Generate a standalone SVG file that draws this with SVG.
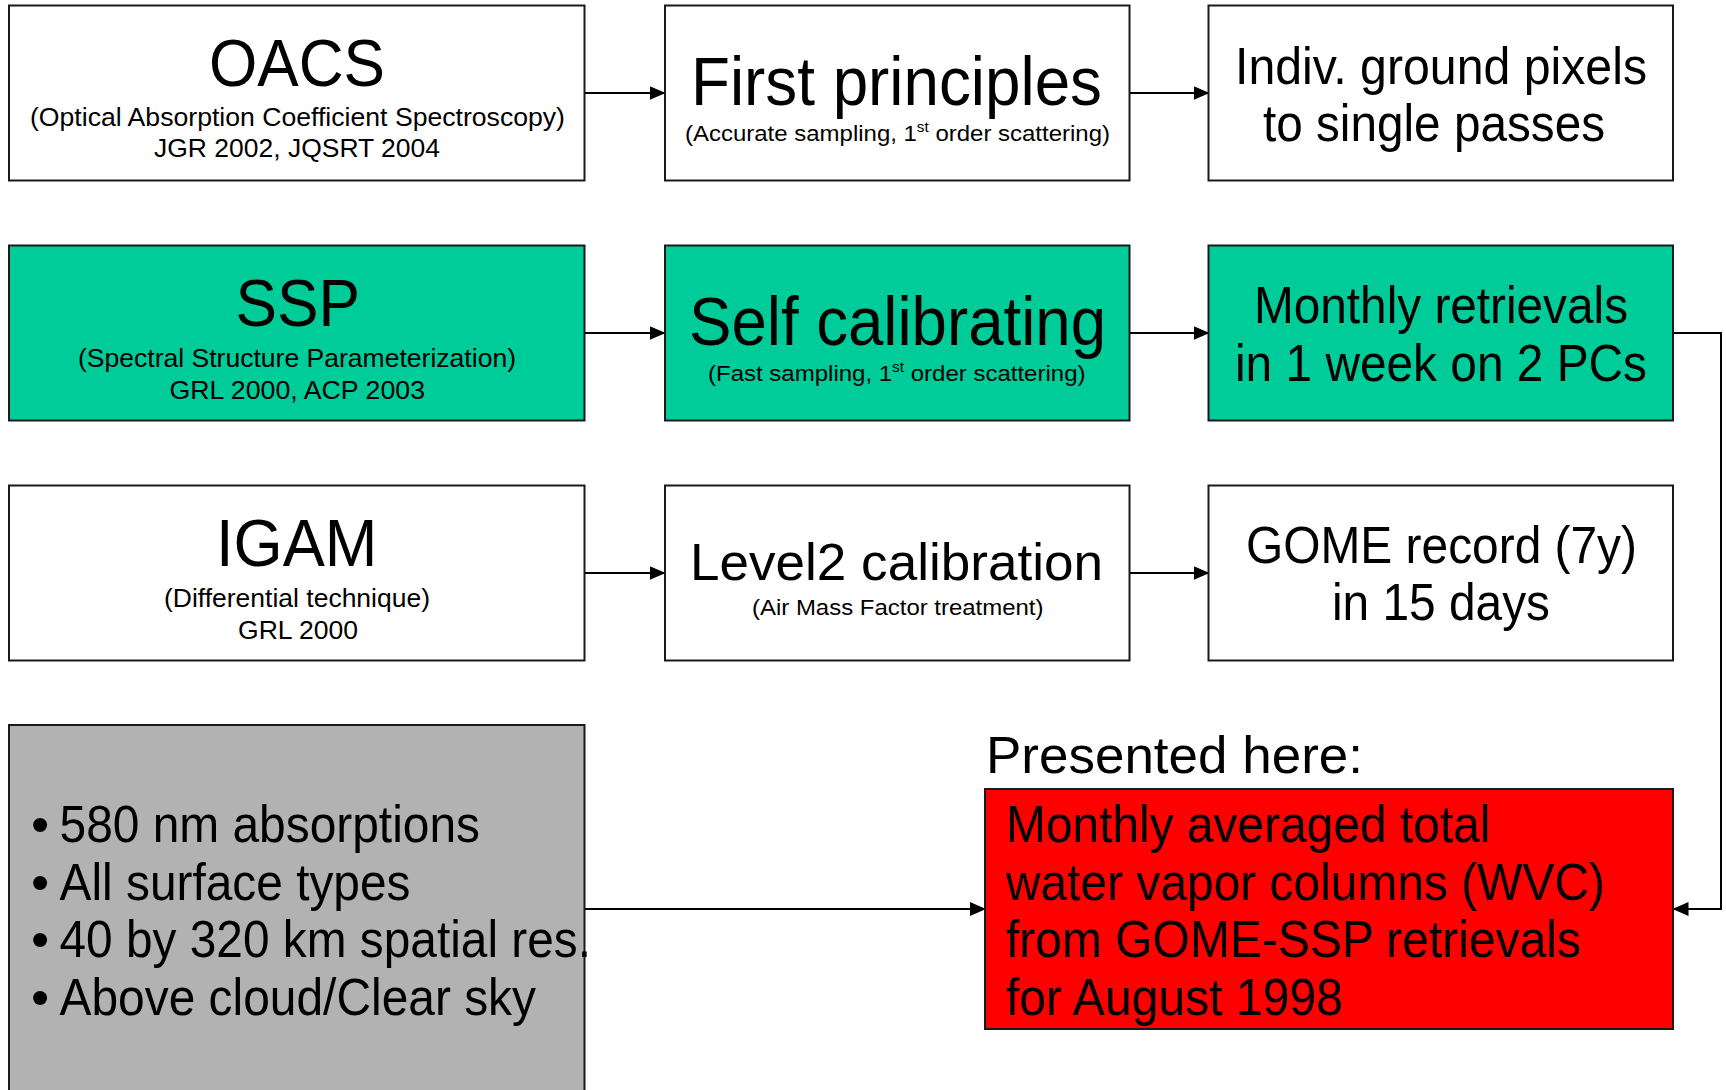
<svg xmlns="http://www.w3.org/2000/svg" width="1726" height="1090" viewBox="0 0 1726 1090">
<defs>
<marker id="arr" markerUnits="userSpaceOnUse" markerWidth="16" markerHeight="14" refX="15" refY="7" orient="auto">
<path d="M0,0 L16,7 L0,14 z" fill="#000"/>
</marker>
<style>
.box{stroke:#1a1a1a;stroke-width:2}
.w{fill:#ffffff}
.g{fill:#00CC99}
.r{fill:#FF0000}
.gr{fill:#B2B2B2}
text{font-family:"Liberation Sans",Arial,sans-serif;fill:#000}
.big{font-size:66px}
.mid{font-size:52px}
.sub{font-size:25px}
.sub2{font-size:22px}
.con{fill:none;stroke:#000;stroke-width:2}
</style>
</defs>
<rect width="1726" height="1090" fill="#ffffff"/>
<g id="connectors">
<path class="con" d="M584.5,93 H664.5" marker-end="url(#arr)"/>
<path class="con" d="M1129.5,93 H1208.5" marker-end="url(#arr)"/>
<path class="con" d="M584.5,333 H664.5" marker-end="url(#arr)"/>
<path class="con" d="M1129.5,333 H1208.5" marker-end="url(#arr)"/>
<path class="con" d="M584.5,573 H664.5" marker-end="url(#arr)"/>
<path class="con" d="M1129.5,573 H1208.5" marker-end="url(#arr)"/>
<path class="con" d="M584.5,909 H985" marker-end="url(#arr)"/>
<path class="con" d="M1673,333 H1721 V909 H1673.5" marker-end="url(#arr)"/>
</g>
<g id="oacs">
<rect class="box w" x="9" y="5.5" width="575.5" height="175"/>
<text class="big" x="209" y="86" textLength="176" lengthAdjust="spacingAndGlyphs">OACS</text>
<text class="sub" x="30" y="126" textLength="535" lengthAdjust="spacingAndGlyphs">(Optical Absorption Coefficient Spectroscopy)</text>
<text class="sub" x="154" y="157" textLength="286" lengthAdjust="spacingAndGlyphs">JGR 2002, JQSRT 2004</text>
</g>
<g id="first-principles">
<rect class="box w" x="665" y="5.5" width="464.5" height="175"/>
<text x="691" y="104.5" style="font-size:69px" textLength="411" lengthAdjust="spacingAndGlyphs">First principles</text>
<text class="sub2" x="685" y="141" textLength="425" lengthAdjust="spacingAndGlyphs">(Accurate sampling, 1<tspan style="font-size:14px" dy="-9">st</tspan><tspan dy="9"> order scattering)</tspan></text>
</g>
<g id="indiv">
<rect class="box w" x="1208.5" y="5.5" width="464.5" height="175"/>
<text class="mid" x="1235" y="84" textLength="412" lengthAdjust="spacingAndGlyphs">Indiv. ground pixels</text>
<text class="mid" x="1263" y="141" textLength="342" lengthAdjust="spacingAndGlyphs">to single passes</text>
</g>
<g id="ssp">
<rect class="box g" x="9" y="245.5" width="575.5" height="175"/>
<text class="big" x="235.5" y="326" textLength="124.5" lengthAdjust="spacingAndGlyphs">SSP</text>
<text class="sub" x="78" y="366.5" textLength="438" lengthAdjust="spacingAndGlyphs">(Spectral Structure Parameterization)</text>
<text class="sub" x="169.5" y="398.5" textLength="255.5" lengthAdjust="spacingAndGlyphs">GRL 2000, ACP 2003</text>
</g>
<g id="self-calibrating">
<rect class="box g" x="665" y="245.5" width="464.5" height="175"/>
<text x="689" y="344.5" style="font-size:69px" textLength="417" lengthAdjust="spacingAndGlyphs">Self calibrating</text>
<text class="sub2" x="708" y="381" textLength="377.5" lengthAdjust="spacingAndGlyphs">(Fast sampling, 1<tspan style="font-size:14px" dy="-9">st</tspan><tspan dy="9"> order scattering)</tspan></text>
</g>
<g id="monthly-retrievals">
<rect class="box g" x="1208.5" y="245.5" width="464.5" height="175"/>
<text class="mid" x="1254" y="322.5" textLength="374" lengthAdjust="spacingAndGlyphs">Monthly retrievals</text>
<text class="mid" x="1235" y="381" textLength="412" lengthAdjust="spacingAndGlyphs">in 1 week on 2 PCs</text>
</g>
<g id="igam">
<rect class="box w" x="9" y="485.5" width="575.5" height="175"/>
<text class="big" x="216" y="566" textLength="161.5" lengthAdjust="spacingAndGlyphs">IGAM</text>
<text class="sub" x="164" y="606.5" textLength="266" lengthAdjust="spacingAndGlyphs">(Differential technique)</text>
<text class="sub" x="238" y="638.5" textLength="120" lengthAdjust="spacingAndGlyphs">GRL 2000</text>
</g>
<g id="level2">
<rect class="box w" x="665" y="485.5" width="464.5" height="175"/>
<text class="mid" x="690" y="580" textLength="413" lengthAdjust="spacingAndGlyphs">Level2 calibration</text>
<text class="sub2" x="752" y="615" textLength="291.5" lengthAdjust="spacingAndGlyphs">(Air Mass Factor treatment)</text>
</g>
<g id="gome-record">
<rect class="box w" x="1208.5" y="485.5" width="464.5" height="175"/>
<text class="mid" x="1246" y="562.5" textLength="391" lengthAdjust="spacingAndGlyphs">GOME record (7y)</text>
<text class="mid" x="1332" y="620" textLength="218" lengthAdjust="spacingAndGlyphs">in 15 days</text>
</g>
<g id="features">
<rect class="box gr" x="9" y="725" width="575.5" height="380"/>
<text class="mid" x="31" y="842">•</text>
<text class="mid" x="59.5" y="842" textLength="420.5" lengthAdjust="spacingAndGlyphs">580 nm absorptions</text>
<text class="mid" x="31" y="899.5">•</text>
<text class="mid" x="59.5" y="899.5" textLength="351" lengthAdjust="spacingAndGlyphs">All surface types</text>
<text class="mid" x="31" y="957">•</text>
<text class="mid" x="59.5" y="957" textLength="531.5" lengthAdjust="spacingAndGlyphs">40 by 320 km spatial res.</text>
<text class="mid" x="31" y="1014.5">•</text>
<text class="mid" x="59.5" y="1014.5" textLength="476.5" lengthAdjust="spacingAndGlyphs">Above cloud/Clear sky</text>
</g>
<g id="presented">
<text class="mid" x="986" y="773" textLength="377" lengthAdjust="spacingAndGlyphs">Presented here:</text>
<rect class="box r" x="985" y="789" width="688" height="240"/>
<text class="mid" x="1006" y="842" textLength="484.5" lengthAdjust="spacingAndGlyphs">Monthly averaged total</text>
<text class="mid" x="1006" y="899.5" textLength="599" lengthAdjust="spacingAndGlyphs">water vapor columns (WVC)</text>
<text class="mid" x="1006" y="957" textLength="575" lengthAdjust="spacingAndGlyphs">from GOME-SSP retrievals</text>
<text class="mid" x="1006" y="1014.5" textLength="337" lengthAdjust="spacingAndGlyphs">for August 1998</text>
</g>
</svg>
